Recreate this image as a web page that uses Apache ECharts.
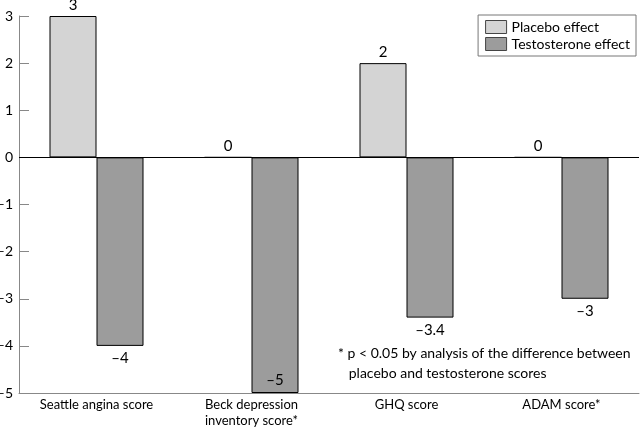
<!DOCTYPE html>
<html>
<head>
<meta charset="utf-8">
<script src="https://cdn.jsdelivr.net/npm/echarts@6/dist/echarts.min.js"></script>
<style>
  html, body { margin: 0; padding: 0; background: #fff; }
  #chart { width: 640px; height: 427px; }
</style>
</head>
<body>
<div id="chart"></div>
<script>
const categories = ['Seattle angina score', 'Beck depression\ninventory score*', 'GHQ score', 'ADAM score*'];
const placebo = [3, 0, 2, 0];
const testosterone = [-4, -5, -3.4, -3];
const yTicks = [-5, -4, -3, -2, -1, 0, 1, 2, 3];

const FONT = 'Lato';
const dash = v => String(v).replace('-', '\u2013');

const chart = echarts.init(document.getElementById('chart'));

chart.setOption({
  animation: false,
  textStyle: { fontFamily: FONT, color: '#000' },
  grid: { left: 19, right: 1, top: 16, bottom: 34, outerBoundsMode: 'none' },
  legend: {
    orient: 'vertical',
    right: 4,
    top: 15,
    icon: 'rect',
    itemWidth: 21,
    itemHeight: 13,
    itemGap: 3,
    padding: [5, 6, 5, 7],
    borderColor: '#777',
    borderWidth: 1,
    itemStyle: { borderColor: '#444', borderWidth: 1 },
    textStyle: { fontFamily: FONT, fontSize: 14, color: '#000' },
    data: ['Placebo effect', 'Testosterone effect']
  },
  xAxis: {
    type: 'category',
    data: categories,
    axisLine: { onZero: false, lineStyle: { color: '#888' } },
    axisTick: { inside: true, length: 10, lineStyle: { color: '#888' } },
    axisLabel: { fontFamily: FONT, fontSize: 13, color: '#000', margin: 4, lineHeight: 16 }
  },
  yAxis: {
    type: 'value',
    min: yTicks[0],
    max: yTicks[yTicks.length - 1],
    interval: 1,
    axisLine: { show: true, lineStyle: { color: '#888' } },
    axisTick: { show: true, inside: true, length: 10, lineStyle: { color: '#888' } },
    splitLine: { show: false },
    axisLabel: { fontFamily: FONT, fontSize: 14, color: '#000', margin: 6, formatter: dash }
  },
  series: [
    {
      name: 'Placebo effect',
      type: 'bar',
      data: placebo,
      barWidth: 47,
      barGap: '0%',
      itemStyle: { color: '#d4d4d4', borderColor: '#000', borderWidth: 1 },
      label: {
        show: true, position: 'top', distance: 3,
        fontFamily: FONT, fontSize: 15, color: '#000',
        formatter: p => dash(p.value)
      },
      markLine: {
        silent: true,
        symbol: 'none',
        label: { show: false },
        lineStyle: { color: '#000', width: 1, type: 'solid' },
        data: [{ yAxis: 0 }]
      }
    },
    {
      name: 'Testosterone effect',
      type: 'bar',
      data: testosterone.map(v => ({
        value: v,
        label: { position: v <= yTicks[0] ? 'insideBottom' : 'bottom' }
      })),
      barWidth: 47,
      barGap: '0%',
      itemStyle: { color: '#9c9c9c', borderColor: '#000', borderWidth: 1 },
      label: {
        show: true, distance: 5,
        fontFamily: FONT, fontSize: 15, color: '#000',
        formatter: p => dash(p.value)
      }
    }
  ],
  graphic: [
    {
      type: 'text',
      left: 338,
      top: 343,
      style: {
        text: '* p < 0.05 by analysis of the difference between\n   placebo and testosterone scores',
        font: '14px ' + FONT,
        fill: '#000',
        lineHeight: 20
      }
    }
  ]
});
</script>
</body>
</html>
